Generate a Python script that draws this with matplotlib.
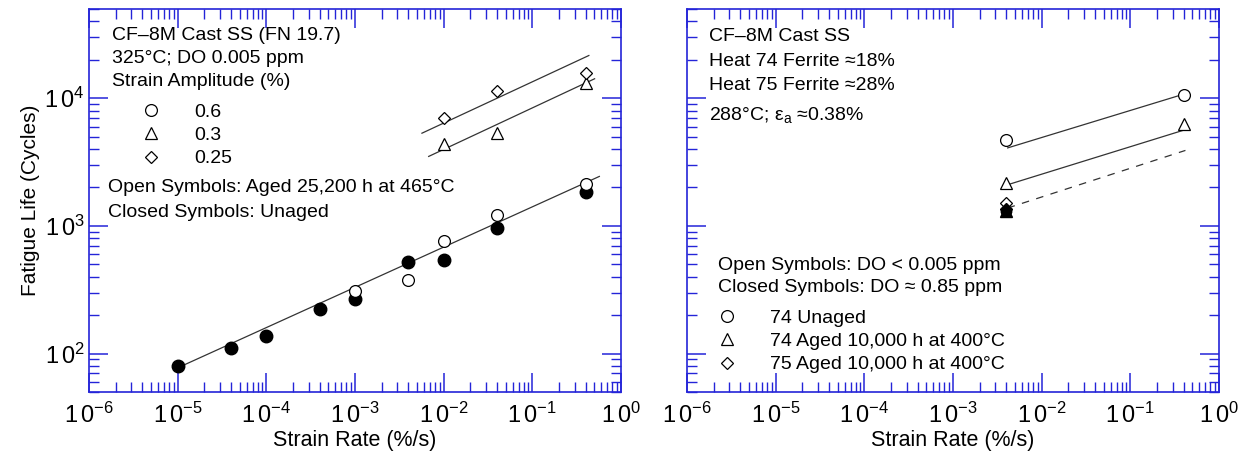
import numpy as np
import matplotlib.pyplot as plt
from matplotlib.ticker import LogLocator, FuncFormatter, NullFormatter

plt.rcParams['font.family'] = ['Liberation Sans', 'DejaVu Sans']
plt.rcParams['mathtext.fontset'] = 'custom'
plt.rcParams['mathtext.rm'] = 'Liberation Sans'
plt.rcParams['mathtext.it'] = 'Liberation Sans:italic'

# left panel: CF-8M (FN 19.7), 325 C, DO 0.005 ppm
rate_unaged = [1e-5, 4e-5, 1e-4, 4e-4, 1e-3, 4e-3, 1e-2, 4e-2, 0.4]
life_unaged = [80, 111, 137, 223, 268, 525, 537, 962, 1840]
rate_aged06 = [1e-3, 4e-3, 1e-2, 4e-2, 0.4]
life_aged06 = [309, 375, 760, 1208, 2147]
rate_aged03 = [1e-2, 4e-2, 0.4]
life_aged03 = [4400, 5320, 13100]
rate_aged025 = [1e-2, 4e-2, 0.4]
life_aged025 = [6980, 11350, 15700]

fit06_x, fit06_y = [1.06e-5, 0.57], [78.7, 2440]
fit03_x, fit03_y = [6.78e-3, 0.504], [3500, 14200]
fit025_x, fit025_y = [5.69e-3, 0.434], [5320, 21600]

# right panel: CF-8M heats 74 / 75, 288 C
rate_r = [4e-3, 0.4]
life_74_unaged = [4720, 10680]
life_74_aged = [2160, 6300]
rate_75 = [4e-3]
life_75_aged = [1510]
rate_closed = [4e-3]
closed_circle = [1300]
closed_tri = [1310]
closed_dia = [1350]

fit74u_x, fit74u_y = [4.13e-3, 0.39], [4080, 10700]
fit74a_x, fit74a_y = [4.13e-3, 0.41], [2100, 5650]
fit75_x, fit75_y = [4.13e-3, 0.418], [1380, 3900]

blue = '#2424d8'
fs = 14
ms = 8.5


def style_axes(ax, ylabels=True):
    ax.set_xscale('log')
    ax.set_yscale('log')
    ax.set_xlim(1e-6, 1)
    ax.set_ylim(50, 5e4)
    for s in ax.spines.values():
        s.set_color(blue)
        s.set_linewidth(1.2)
    ax.xaxis.set_major_locator(LogLocator(base=10, numticks=10))
    ax.xaxis.set_minor_locator(LogLocator(base=10, subs=np.arange(2, 10), numticks=10))
    ax.yaxis.set_major_locator(LogLocator(base=10, numticks=10))
    ax.yaxis.set_minor_locator(LogLocator(base=10, subs=np.arange(2, 10), numticks=10))
    fmt = FuncFormatter(lambda v, p: r'$\mathregular{1\,0^{%d}}$' % round(np.log10(v)))
    ax.xaxis.set_major_formatter(fmt)
    ax.xaxis.set_minor_formatter(NullFormatter())
    ax.yaxis.set_minor_formatter(NullFormatter())
    if ylabels:
        ax.yaxis.set_major_formatter(fmt)
    else:
        ax.yaxis.set_major_formatter(NullFormatter())
    ax.tick_params(which='both', direction='in', top=True, right=True,
                   color=blue, labelsize=17)
    ax.tick_params(which='major', length=14, width=1.1)
    ax.tick_params(which='minor', length=7, width=1.0)
    ax.tick_params(axis='x', pad=8)
    ax.tick_params(axis='y', pad=3)
    ax.set_xlabel('Strain Rate (%/s)', fontsize=15.5, labelpad=1)


fig = plt.figure(figsize=(12.41, 4.55), dpi=100)
ax1 = fig.add_axes([0.0717, 0.1385, 0.4287, 0.8418])
ax2 = fig.add_axes([0.5536, 0.1385, 0.4287, 0.8418])

style_axes(ax1)
style_axes(ax2, ylabels=False)
ax1.set_ylabel('Fatigue Life (Cycles)', fontsize=15, labelpad=3)

lk = dict(color='#333333', linewidth=0.9)
ax1.plot(fit06_x, fit06_y, **lk)
ax1.plot(fit03_x, fit03_y, **lk)
ax1.plot(fit025_x, fit025_y, **lk)

ax1.plot(rate_unaged, life_unaged, 'o', ms=ms + 0.5, mfc='black', mec='black', ls='none')
h06, = ax1.plot(rate_aged06, life_aged06, 'o', ms=ms, mfc='white', mec='black', mew=0.9, ls='none', label='0.6')
h03, = ax1.plot(rate_aged03, life_aged03, '^', ms=ms + 0.5, mfc='white', mec='black', mew=0.9, ls='none', label='0.3')
h025, = ax1.plot(rate_aged025, life_aged025, 'D', ms=ms - 2, mfc='white', mec='black', mew=0.9, ls='none', label='0.25')


def ax_xy(px, py):
    return (px - 89) / 532, (392 - py) / 383


tk = dict(fontsize=fs, va='center', ha='left')
for px, py, s in [(112, 36, 'CF–8M Cast SS (FN 19.7)'), (112, 59, '325°C; DO 0.005 ppm'),
                  (112, 82, 'Strain Amplitude (%)'),
                  (108, 188, 'Open Symbols: Aged 25,200 h at 465°C'),
                  (108, 213, 'Closed Symbols: Unaged')]:
    ax1.text(*ax_xy(px, py), s, transform=ax1.transAxes, **tk)

ax1.legend(handles=[h06, h03, h025], loc='upper left', bbox_to_anchor=ax_xy(141, 103),
           frameon=False, fontsize=fs, handlelength=1.0, handletextpad=1.72,
           labelspacing=0.3, borderpad=0, borderaxespad=0)

# right panel
ax2.plot(fit74u_x, fit74u_y, **lk)
ax2.plot(fit74a_x, fit74a_y, **lk)
ax2.plot(fit75_x, fit75_y, ls=(0, (6, 6)), **lk)

g1, = ax2.plot(rate_r, life_74_unaged, 'o', ms=ms, mfc='white', mec='black', mew=0.9, ls='none', label='74 Unaged')
g2, = ax2.plot(rate_r, life_74_aged, '^', ms=ms + 0.5, mfc='white', mec='black', mew=0.9, ls='none', label='74 Aged 10,000 h at 400°C')
g3, = ax2.plot(rate_75, life_75_aged, 'D', ms=ms - 2, mfc='white', mec='black', mew=0.9, ls='none', label='75 Aged 10,000 h at 400°C')
ax2.plot(rate_closed, closed_circle, 'o', ms=ms - 1, mfc='black', mec='black', ls='none')
ax2.plot(rate_closed, closed_tri, '^', ms=ms, mfc='black', mec='black', ls='none')
ax2.plot(rate_closed, closed_dia, 'D', ms=ms - 2.5, mfc='black', mec='black', ls='none')

for px, py, s in [(111, 37, 'CF–8M Cast SS'), (111, 62, 'Heat 74 Ferrite ≈18%'),
                  (111, 86, 'Heat 75 Ferrite ≈28%'),
                  (111, 115, '288°C; ε$_\\mathregular{a}$ ≈0.38%'),
                  (120, 266, 'Open Symbols: DO < 0.005 ppm'),
                  (120, 288, 'Closed Symbols: DO ≈ 0.85 ppm')]:
    ax2.text(*ax_xy(px, py), s, transform=ax2.transAxes, **tk)

ax2.legend(handles=[g1, g2, g3], loc='upper left', bbox_to_anchor=ax_xy(119, 309),
           frameon=False, fontsize=fs, handlelength=1.0, handletextpad=1.72,
           labelspacing=0.3, borderpad=0, borderaxespad=0)

fig.savefig('out.png', dpi=100)
